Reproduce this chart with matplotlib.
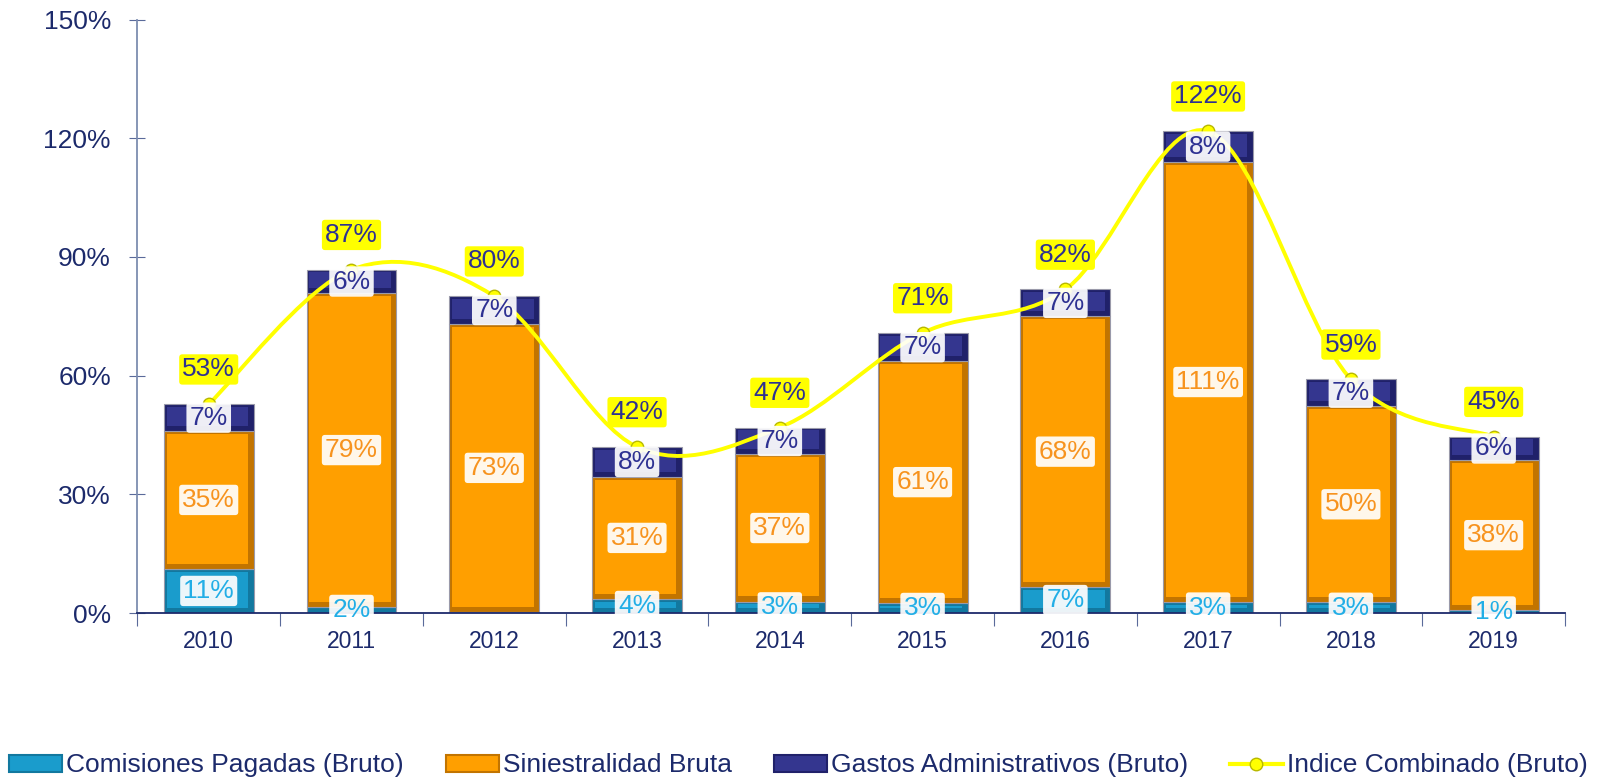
import numpy as np
import matplotlib
matplotlib.use("Agg")
import matplotlib.pyplot as plt
from matplotlib.path import Path
from matplotlib.patches import PathPatch, Rectangle
from matplotlib.lines import Line2D
from matplotlib.ticker import FixedLocator, PercentFormatter

plt.rcParams["font.family"] = ["Liberation Sans", "DejaVu Sans"]

# ---------- Data ----------
years = ["2010", "2011", "2012", "2013", "2014", "2015", "2016", "2017", "2018", "2019"]
comisiones = [11.2, 1.6, 0.3, 3.6, 2.9, 2.6, 6.6, 2.8, 2.7, 0.8]
siniestralidad = [34.8, 79.2, 72.8, 30.8, 37.2, 61.0, 68.4, 111.2, 49.6, 37.8]
gastos = [6.8, 6.0, 7.0, 7.6, 6.8, 7.2, 6.8, 7.8, 6.8, 6.0]
indice = [52.8, 86.8, 80.1, 42.0, 46.9, 70.8, 81.8, 121.8, 59.1, 44.6]

# ---------- Style ----------
NAVY = "#1c2a6b"
C_COM, E_COM, T_COM = "#1a9ccc", "#12789f", "#22aee6"
C_SIN, E_SIN, T_SIN = "#ff9f00", "#c27400", "#f7931e"
C_GAS, E_GAS, T_GAS = "#34368f", "#20216a", "#2e3192"
YEL = "#ffff00"

fig = plt.figure(figsize=(15.97, 7.84), dpi=100)
ax = fig.add_axes([0.086, 0.218, 0.894, 0.757])

x = np.arange(len(years))
w = 0.63
com = np.array(comisiones)
sin = np.array(siniestralidad)
gas = np.array(gastos)

def bevel_bar(bottom, height, face, dark):
    # outer darker frame, then an inset lighter face
    ax.bar(x, height, w, bottom=bottom, color=dark, edgecolor="#9a9aaa",
           linewidth=0.8, zorder=2)
    dx, dy = 0.03, 1.0
    inner = np.clip(height - 2 * dy, 0, None)
    ax.bar(x - 0.01, inner, w - 2 * dx, bottom=bottom + dy + 0.3, color=face,
           linewidth=0, zorder=2.1)

bevel_bar(0, com, C_COM, E_COM)
bevel_bar(com, sin, C_SIN, E_SIN)
bevel_bar(com + sin, gas, C_GAS, E_GAS)

# smoothed line (Bezier through the data points)
pts = np.column_stack([x, indice]).astype(float)
ext = np.vstack([pts[0], pts, pts[-1]])
verts = [tuple(pts[0])]
codes = [Path.MOVETO]
for i in range(len(pts) - 1):
    p0, p1, p2, p3 = ext[i], ext[i + 1], ext[i + 2], ext[i + 3]
    c1 = p1 + (p2 - p0) / 6
    c2 = p2 - (p3 - p1) / 6
    verts += [tuple(c1), tuple(c2), tuple(p2)]
    codes += [Path.CURVE4] * 3
ax.add_patch(PathPatch(Path(verts, codes), facecolor="none", edgecolor=YEL,
                       linewidth=2.8, zorder=3))
ax.plot(x, indice, linestyle="none", marker="o", markersize=9,
        markerfacecolor=YEL, markeredgecolor="#b8b800", zorder=4)

# segment labels
def seg_label(xi, y, val, color):
    ax.text(xi, y, f"{round(val):.0f}%", ha="center", va="center", fontsize=19,
            color=color, zorder=6,
            bbox=dict(boxstyle="round,pad=0.12", facecolor="white",
                      edgecolor="none", alpha=0.92))

for i in range(len(years)):
    if com[i] >= 0.5:
        seg_label(x[i], com[i] / 2, com[i], T_COM)
    seg_label(x[i], com[i] + sin[i] / 2, sin[i], T_SIN)
    seg_label(x[i], com[i] + sin[i] + gas[i] / 2, gas[i], T_GAS)
    ax.annotate(f"{round(indice[i]):.0f}%", (x[i], indice[i]), xytext=(0, 25),
                textcoords="offset points", ha="center", va="center",
                fontsize=19, color=T_GAS, zorder=6,
                bbox=dict(boxstyle="round,pad=0.12", facecolor=YEL,
                          edgecolor="none"))

# ---------- Axes ----------
ax.set_xlim(-0.5, len(years) - 0.5)
ax.set_ylim(0, 150)
ax.yaxis.set_major_locator(FixedLocator([0, 30, 60, 90, 120, 150]))
ax.yaxis.set_major_formatter(PercentFormatter(decimals=0))
ax.xaxis.set_major_locator(FixedLocator(np.arange(-0.5, len(years), 1.0)))
ax.xaxis.set_minor_locator(FixedLocator(x))
ax.set_xticklabels([], minor=False)
ax.set_xticklabels(years, minor=True)
ax.tick_params(axis="x", which="major", direction="out", length=9, color="#5a6a9a")
ax.tick_params(axis="x", which="minor", length=0, pad=12, labelsize=16.5, labelcolor=NAVY)
ax.tick_params(axis="y", direction="inout", length=12, color="#5a6a9a",
               labelsize=19, labelcolor=NAVY, pad=13)
for s in ["top", "right"]:
    ax.spines[s].set_visible(False)
ax.spines["left"].set_color("#7d8db0")
ax.spines["bottom"].set_color(NAVY)
ax.spines["left"].set_linewidth(1.3)
ax.spines["bottom"].set_linewidth(1.3)

# ---------- Legend ----------
handles = [
    Rectangle((0, 0), 1, 1, facecolor=C_COM, edgecolor=E_COM, linewidth=1.5),
    Rectangle((0, 0), 1, 1, facecolor=C_SIN, edgecolor=E_SIN, linewidth=1.5),
    Rectangle((0, 0), 1, 1, facecolor=C_GAS, edgecolor=E_GAS, linewidth=1.5),
    Line2D([], [], color=YEL, linewidth=3, marker="o", markersize=9,
           markerfacecolor=YEL, markeredgecolor="#b8b800"),
]
labels = ["Comisiones Pagadas (Bruto)", "Siniestralidad Bruta",
          "Gastos Administrativos (Bruto)", "Indice Combinado (Bruto)"]
leg = fig.legend(handles, labels, loc="lower center", bbox_to_anchor=(0.5, -0.022),
                 ncol=4, frameon=False, fontsize=19, handlelength=2.0,
                 handleheight=0.6, handletextpad=0.15, columnspacing=1.6)
for t in leg.get_texts():
    t.set_color(NAVY)

fig.savefig("out.png", dpi=100)
